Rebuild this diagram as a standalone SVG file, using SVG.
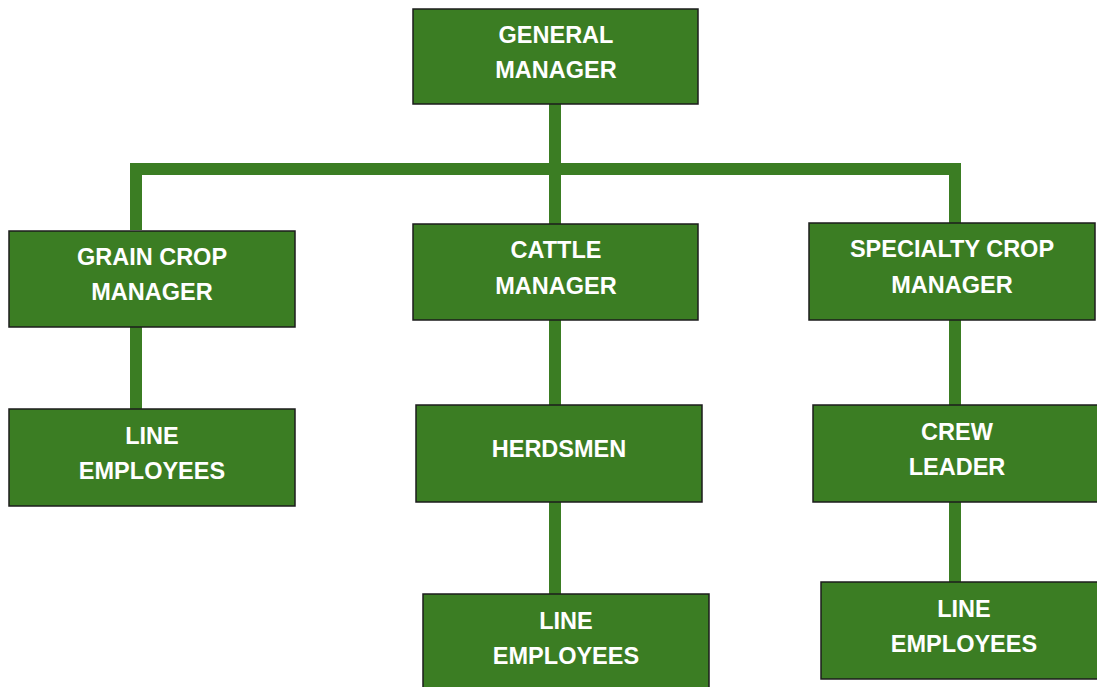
<svg xmlns="http://www.w3.org/2000/svg" width="1097" height="687" viewBox="0 0 1097 687">
<style>
.box{fill:#3b7d23;stroke:#1c1c1c;stroke-width:1.5}
.t{font-family:"Liberation Sans",Arial,sans-serif;font-weight:bold;font-size:23.5px;fill:#ffffff;text-anchor:middle}
.c{fill:none;stroke:#3b7d23;stroke-width:12}
</style>
<rect width="1097" height="687" fill="#ffffff"/>
<g id="connectors">
<path class="c" d="M555,104 V224"/>
<path class="c" d="M136,230 V169 H955 V223"/>
<path class="c" d="M136,327 V409"/>
<path class="c" d="M555,320 V405"/>
<path class="c" d="M555,502 V594"/>
<path class="c" d="M955,320 V405"/>
<path class="c" d="M955,502 V582"/>
</g>
<g id="general-manager">
<rect class="box" x="413" y="9" width="285" height="95"/>
<text class="t" x="556" y="43">GENERAL</text>
<text class="t" x="556" y="78">MANAGER</text>
</g>
<g id="grain-crop-manager">
<rect class="box" x="9" y="231" width="286" height="96"/>
<text class="t" x="152" y="265">GRAIN CROP</text>
<text class="t" x="152" y="300">MANAGER</text>
</g>
<g id="cattle-manager">
<rect class="box" x="413" y="224" width="285" height="96"/>
<text class="t" x="556" y="258">CATTLE</text>
<text class="t" x="556" y="294">MANAGER</text>
</g>
<g id="specialty-crop-manager">
<rect class="box" x="809" y="223" width="286" height="97"/>
<text class="t" x="952" y="257">SPECIALTY CROP</text>
<text class="t" x="952" y="293">MANAGER</text>
</g>
<g id="line-employees-grain">
<rect class="box" x="9" y="409" width="286" height="97"/>
<text class="t" x="152" y="444">LINE</text>
<text class="t" x="152" y="479">EMPLOYEES</text>
</g>
<g id="herdsmen">
<rect class="box" x="416" y="405" width="286" height="97"/>
<text class="t" x="559" y="457">HERDSMEN</text>
</g>
<g id="line-employees-cattle">
<rect class="box" x="423" y="594" width="286" height="100"/>
<text class="t" x="566" y="629">LINE</text>
<text class="t" x="566" y="664">EMPLOYEES</text>
</g>
<g id="crew-leader">
<rect class="box" x="813" y="405" width="290" height="97"/>
<text class="t" x="957" y="440">CREW</text>
<text class="t" x="957" y="475">LEADER</text>
</g>
<g id="line-employees-specialty">
<rect class="box" x="821" y="582" width="282" height="97"/>
<text class="t" x="964" y="617">LINE</text>
<text class="t" x="964" y="652">EMPLOYEES</text>
</g>
</svg>
